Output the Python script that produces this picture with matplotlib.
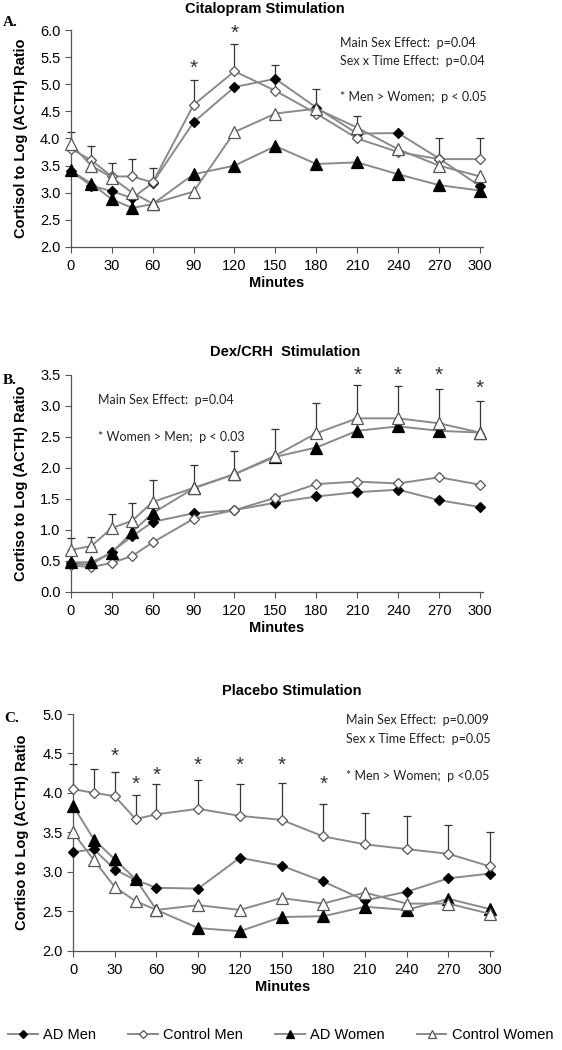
import matplotlib.pyplot as plt
import numpy as np

minutes = [0, 15, 30, 45, 60, 90, 120, 150, 180, 210, 240, 270, 300]
xticks = [0, 30, 60, 90, 120, 150, 180, 210, 240, 270, 300]
series_names = ["AD Men", "Control Men", "AD Women", "Control Women"]

# A. Citalopram stimulation
cit_ad_men = [3.40, 3.13, 3.03, 2.90, 3.18, 4.30, 4.95, 5.10, 4.57, 4.09, 4.10, 3.63, 3.12]
cit_ctrl_men = [3.81, 3.60, 3.30, 3.30, 3.19, 4.62, 5.24, 4.88, 4.46, 4.00, 3.75, 3.62, 3.62]
cit_ad_women = [3.41, 3.17, 2.88, 2.72, 2.79, 3.34, 3.50, 3.86, 3.53, 3.56, 3.34, 3.14, 3.04]
cit_ctrl_women = [3.90, 3.50, 3.28, 3.00, 2.80, 3.02, 4.12, 4.46, 4.55, 4.20, 3.80, 3.50, 3.30]
cit_err_top = [4.12, 3.86, 3.55, 3.62, 3.46, 5.08, 5.74, 5.35, 4.92, 4.42, 3.75, 4.00, 4.00]
cit_star_x = [90, 120]
cit_star_y = [5.38, 6.03]

# B. Dex/CRH stimulation
dex_ad_men = [0.46, 0.44, 0.65, 0.90, 1.13, 1.27, 1.32, 1.44, 1.54, 1.61, 1.65, 1.48, 1.37]
dex_ctrl_men = [0.43, 0.40, 0.47, 0.58, 0.80, 1.18, 1.32, 1.52, 1.74, 1.78, 1.75, 1.85, 1.73]
dex_ad_women = [0.48, 0.48, 0.63, 0.97, 1.27, 1.67, 1.90, 2.18, 2.33, 2.60, 2.67, 2.60, 2.57]
dex_ctrl_women = [0.68, 0.74, 1.03, 1.15, 1.45, 1.68, 1.90, 2.20, 2.56, 2.80, 2.80, 2.72, 2.57]
dex_err_top = [0.87, 0.88, 1.26, 1.43, 1.80, 2.04, 2.28, 2.63, 3.04, 3.34, 3.32, 3.28, 3.08]
dex_star_x = [210, 240, 270, 300]
dex_star_y = [3.57, 3.57, 3.57, 3.37]

# C. Placebo stimulation
pla_ad_men = [3.25, 3.29, 3.03, 2.90, 2.80, 2.79, 3.18, 3.08, 2.88, 2.64, 2.75, 2.92, 2.98]
pla_ctrl_men = [4.05, 4.00, 3.96, 3.67, 3.73, 3.80, 3.71, 3.66, 3.45, 3.35, 3.29, 3.23, 3.07]
pla_ad_women = [3.84, 3.41, 3.16, 2.91, 2.52, 2.29, 2.25, 2.43, 2.44, 2.56, 2.52, 2.66, 2.53]
pla_ctrl_women = [3.50, 3.15, 2.81, 2.63, 2.52, 2.58, 2.52, 2.67, 2.60, 2.74, 2.60, 2.60, 2.47]
pla_err_top = [4.37, 4.31, 4.26, 3.98, 4.11, 4.16, 4.12, 4.13, 3.86, 3.75, 3.71, 3.59, 3.50]
pla_star_x = [30, 45, 60, 90, 120, 150, 180]
pla_star_y = [4.53, 4.17, 4.29, 4.41, 4.41, 4.41, 4.17]

LINE = "#8a8a8a"
styles = [
    dict(marker="D", ms=5.5, mfc="black", mec="black"),
    dict(marker="D", ms=5.5, mfc="white", mec="#555555"),
    dict(marker="^", ms=8.5, mfc="black", mec="black"),
    dict(marker="^", ms=8.5, mfc="white", mec="#555555"),
]

plt.rcParams["font.family"] = ["Liberation Sans", "DejaVu Sans"]
NOTE_FONT = ["Lato", "DejaVu Sans"]

fig = plt.figure(figsize=(5.62, 10.5), dpi=100)


def panel(rect, data, err_top, err_idx, stars_x, stars_y, ylim, yticks,
          title, title_pad, letter, letter_y, ylabel, notes, title_x):
    ax = fig.add_axes(rect)
    for vals, st, name in zip(data, styles, series_names):
        ax.plot(minutes, vals, color=LINE, lw=1.4, mew=0.9, clip_on=False,
                label=name, zorder=3, **st)
    base = np.array(data[err_idx])
    up = np.clip(np.array(err_top) - base, 0, None)
    ax.errorbar(minutes, base, yerr=[np.zeros_like(up), up], fmt="none",
                ecolor="#333333", elinewidth=0.9, capsize=2.8, capthick=0.9,
                zorder=2, clip_on=False)
    # asterisks: shift down so the glyph itself is centred on the value
    for sx, sy in zip(stars_x, stars_y):
        ax.annotate("*", (sx, sy), xytext=(0, -3.5), textcoords="offset points",
                    ha="center", va="center", fontsize=15, color="#333333",
                    annotation_clip=False)
    ax.set_xlim(0, 302)
    ax.set_ylim(*ylim)
    ax.set_xticks(xticks)
    ax.set_yticks(yticks)
    ax.set_yticklabels([f"{v:.1f}" for v in yticks])
    ax.tick_params(labelsize=10.5, length=4, width=0.8, color="#555555")
    ax.tick_params(axis="x", pad=5)
    for s in ["top", "right"]:
        ax.spines[s].set_visible(False)
    for s in ["left", "bottom"]:
        ax.spines[s].set_color("#555555")
        ax.spines[s].set_linewidth(0.9)
    ax.set_xlabel("Minutes", fontsize=10.5, fontweight="bold", labelpad=2)
    ax.set_ylabel(ylabel, fontsize=10.5, fontweight="bold")
    ax.yaxis.set_label_coords(-0.105, 0.5)
    ax.set_title(title, fontsize=10.5, fontweight="bold", pad=title_pad, x=title_x)
    ax.text(-0.165, letter_y, letter, transform=ax.transAxes, fontsize=11,
            fontweight="bold", family="Liberation Serif", ha="left", va="center")
    for nx, ny, txt in notes:
        ax.text(nx, ny, txt, fontsize=9, family=NOTE_FONT, ha="left",
                va="center", color="#222222")
    return ax


panel([0.126, 0.7648, 0.733, 0.2066],
      [cit_ad_men, cit_ctrl_men, cit_ad_women, cit_ctrl_women],
      cit_err_top, 1, cit_star_x, cit_star_y, (2.0, 6.0),
      [2.0, 2.5, 3.0, 3.5, 4.0, 4.5, 5.0, 5.5, 6.0],
      "Citalopram Stimulation", 12, "A.", 1.035, "Cortisol to Log (ACTH) Ratio",
      [(197, 5.76, "Main Sex Effect:  p=0.04"),
       (197, 5.42, "Sex x Time Effect:  p=0.04"),
       (197, 4.76, "* Men > Women;  p < 0.05")], 0.47)

panel([0.126, 0.4362, 0.733, 0.2067],
      [dex_ad_men, dex_ctrl_men, dex_ad_women, dex_ctrl_women],
      dex_err_top, 3, dex_star_x, dex_star_y, (0.0, 3.5),
      [0.0, 0.5, 1.0, 1.5, 2.0, 2.5, 3.0, 3.5],
      "Dex/CRH  Stimulation", 14, "B.", 0.975, "Cortiso to Log (ACTH) Ratio",
      [(20, 3.10, "Main Sex Effect:  p=0.04"),
       (20, 2.50, "* Women > Men;  p < 0.03")], 0.52)

panel([0.130, 0.0943, 0.747, 0.2257],
      [pla_ad_men, pla_ctrl_men, pla_ad_women, pla_ctrl_women],
      pla_err_top, 1, pla_star_x, pla_star_y, (2.0, 5.0),
      [2.0, 2.5, 3.0, 3.5, 4.0, 4.5, 5.0],
      "Placebo Stimulation", 14, "C.", 0.983, "Cortiso to Log (ACTH) Ratio",
      [(196, 4.92, "Main Sex Effect:  p=0.009"),
       (196, 4.68, "Sex x Time Effect:  p=0.05"),
       (196, 4.21, "* Men > Women;  p <0.05")], 0.52)

handles = []
for st, name in zip(styles, series_names):
    s = dict(st)
    s["ms"] = s["ms"] * 0.75
    h, = plt.plot([], [], color=LINE, lw=1.4, mew=0.9, label=name, **s)
    handles.append(h)
fig.legend(handles, series_names, loc="center", bbox_to_anchor=(0.5, 0.014),
           ncol=4, frameon=False, fontsize=10.5, handlelength=2.0,
           columnspacing=2.2, handletextpad=0.4)

fig.savefig("out.png", dpi=100)
